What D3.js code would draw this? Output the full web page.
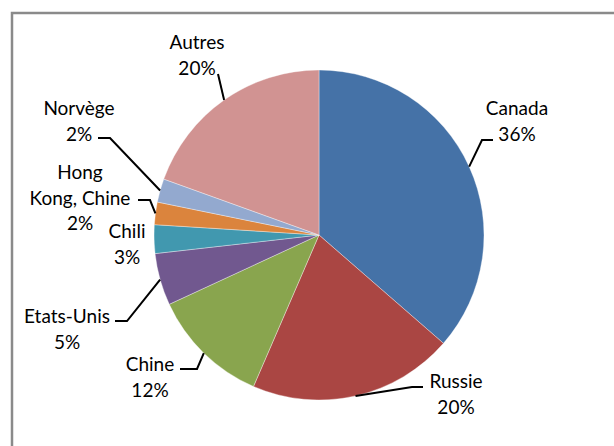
<!DOCTYPE html>
<html>
<head>
<meta charset="utf-8">
<script src="https://cdn.jsdelivr.net/npm/d3@7/dist/d3.min.js"></script>
<style>
  html, body { margin: 0; padding: 0; background: #fff; }
  svg { display: block; }
  text { font-family: Lato, "Open Sans", sans-serif; font-size: 19px; fill: #000; }
</style>
</head>
<body>
<svg id="chart" width="614" height="446"></svg>
<script>
// ---- data ----
const categories = ["Canada", "Russie", "Chine", "Etats-Unis", "Chili", "Hong Kong, Chine", "Norvège", "Autres"];
const values = [36.4, 20.1, 11.6, 5.1, 2.8, 2.2, 2.3, 19.5];
const labelLines = [["Canada"], ["Russie"], ["Chine"], ["Etats-Unis"], ["Chili"], ["Hong", "Kong, Chine"], ["Norvège"], ["Autres"]];
const colors = ["#4572A7", "#AA4643", "#89A54E", "#71588F", "#4198AF", "#DB843D", "#93A9CF", "#D19392"];

// ---- layout (label anchors and leader elbows, not data) ----
const labelLayout = [
  { x: 517, y: 108, elbow: [[482, 140], [493, 140]] },
  { x: 456, y: 381, elbow: [[412, 387], [423, 387]] },
  { x: 150, y: 364, elbow: [[197, 369], [180, 369]] },
  { x: 67,  y: 316, elbow: [[127, 321], [115, 321]] },
  { x: 127, y: 231, elbow: null },
  { x: 80,  y: 172, elbow: [[150, 200], [138, 200]] },
  { x: 79,  y: 108, elbow: [[110, 138], [98, 138]] },
  { x: 197, y: 42,  elbow: [[218, 74]] }
];

const W = 614, H = 446;
const cx = 319, cy = 235, R = 165;
const lineH = 25.5;

const svg = d3.select("#chart");

// frame
svg.append("rect")
  .attr("x", 12).attr("y", 13)
  .attr("width", W).attr("height", H)
  .attr("fill", "none")
  .attr("stroke", "#8a8a8a")
  .attr("stroke-width", 2.5);

const total = d3.sum(values);
const pie = d3.pie().sort(null).value(d => d)(values);
const arc = d3.arc().innerRadius(0).outerRadius(R);
const edgeArc = d3.arc().innerRadius(R).outerRadius(R);

const g = svg.append("g").attr("transform", `translate(${cx},${cy})`);
g.selectAll("path.slice")
  .data(pie)
  .join("path")
  .attr("class", "slice")
  .attr("d", arc)
  .attr("fill", (d, i) => colors[i])
  .attr("stroke", "rgba(255,255,255,0.6)")
  .attr("stroke-width", 0.6);

// leader lines
pie.forEach((d, i) => {
  const L = labelLayout[i];
  if (!L.elbow) return;
  const c = edgeArc.centroid(d);
  const pts = [[cx + c[0], cy + c[1]], ...L.elbow];
  svg.append("path")
    .attr("d", d3.line()(pts))
    .attr("fill", "none")
    .attr("stroke", "#000")
    .attr("stroke-width", 2);
});

// labels
pie.forEach((d, i) => {
  const L = labelLayout[i];
  const lines = [...labelLines[i], Math.round(values[i] / total * 100) + "%"];
  const t = svg.append("text").attr("text-anchor", "middle");
  lines.forEach((s, k) => {
    t.append("tspan")
      .attr("x", L.x)
      .attr("y", L.y + 7 + k * lineH)
      .text(s);
  });
});
</script>
</body>
</html>
